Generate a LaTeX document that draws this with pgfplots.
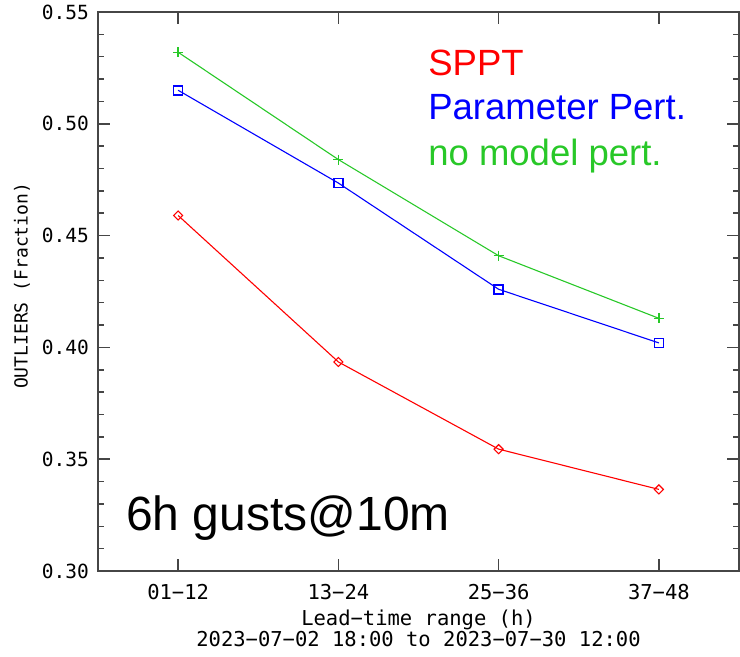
\documentclass[border=0pt]{standalone}
\usepackage{fontspec}
\setmainfont{Liberation Sans}
\newfontfamily\idlfont{DejaVu Sans Mono}
\usepackage{pgfplots}
\pgfplotsset{compat=1.18}

\definecolor{sppt}{RGB}{255,0,0}
\definecolor{ppert}{RGB}{0,0,255}
\definecolor{nomp}{RGB}{40,200,40}
\definecolor{axgray}{RGB}{70,70,70}

\begin{document}
\begin{tikzpicture}
\begin{axis}[
  name=ax,
  scale only axis,
  width=641pt, height=559pt,
  xmin=-0.5, xmax=3.5,
  ymin=0.30, ymax=0.55,
  clip=false,
  xtick={0,1,2,3},
  xticklabels={01−12,13−24,25−36,37−48},
  ytick={0.30,0.35,0.40,0.45,0.50,0.55},
  minor y tick num=4,
  tick align=inside,
  major tick length=12pt,
  minor tick length=6pt,
  axis line style={axgray, line width=1.8pt},
  tick style={axgray, line width=1.5pt},
  /pgf/number format/assume math mode=true,
  yticklabel style={/pgf/number format/fixed, /pgf/number format/fixed zerofill, /pgf/number format/precision=2,
    font=\idlfont\fontsize{19.5}{22}\selectfont, anchor=east, inner sep=0pt, xshift=-9pt},
  xticklabel style={font=\idlfont\fontsize{20.5}{24}\selectfont, anchor=base, inner sep=0pt, yshift=-28pt},
  xlabel={Lead−time range (h)},
  xlabel style={font=\idlfont\fontsize{20.5}{24}\selectfont, at={(axis description cs:0.5,0)}, anchor=base, inner sep=0pt, yshift=-54pt},
  ylabel={OUTLIERS (Fraction)},
  ylabel style={font=\idlfont\fontsize{18}{22}\selectfont, at={(axis description cs:-0.1186,0.51)}, anchor=center, inner sep=0pt},
]
\addplot[nomp, line width=1.1pt, mark=+, mark size=5pt, mark options={line width=1.3pt}] coordinates {
  (0,0.532) (1,0.484) (2,0.441) (3,0.413)
};
\addplot[ppert, line width=1.1pt, mark=square, mark size=4.5pt, mark options={line width=1.5pt}] coordinates {
  (0,0.515) (1,0.4735) (2,0.426) (3,0.402)
};
\addplot[sppt, line width=1.1pt, mark=square, mark size=3.2pt, mark options={rotate=45, line width=1.1pt}] coordinates {
  (0,0.459) (1,0.3935) (2,0.3545) (3,0.3365)
};

\node[anchor=base west, inner sep=0pt, text=sppt, font=\fontsize{36.5}{40}\selectfont] at (axis description cs:0.515,0.887) {SPPT};
\node[anchor=base west, inner sep=0pt, text=ppert, font=\fontsize{36.5}{40}\selectfont] at (axis description cs:0.515,0.807) {Parameter Pert.};
\node[anchor=base west, inner sep=0pt, text=nomp, font=\fontsize{36.5}{40}\selectfont] at (axis description cs:0.515,0.726) {no model pert.};
\node[anchor=base west, inner sep=0pt, font=\fontsize{48}{52}\selectfont] at (axis description cs:0.0437,0.0733) {6h gusts@10m};
\node[anchor=base, inner sep=0pt, font=\idlfont\fontsize{20.5}{24}\selectfont] at ([yshift=-75pt]axis description cs:0.5,0) {2023−07−02 18:00 to 2023−07−30 12:00};
\end{axis}
\pgfresetboundingbox
\path ([shift={(-98pt,-85pt)}]ax.south west) rectangle ([shift={(1pt,12pt)}]ax.north east);
\end{tikzpicture}
\end{document}
